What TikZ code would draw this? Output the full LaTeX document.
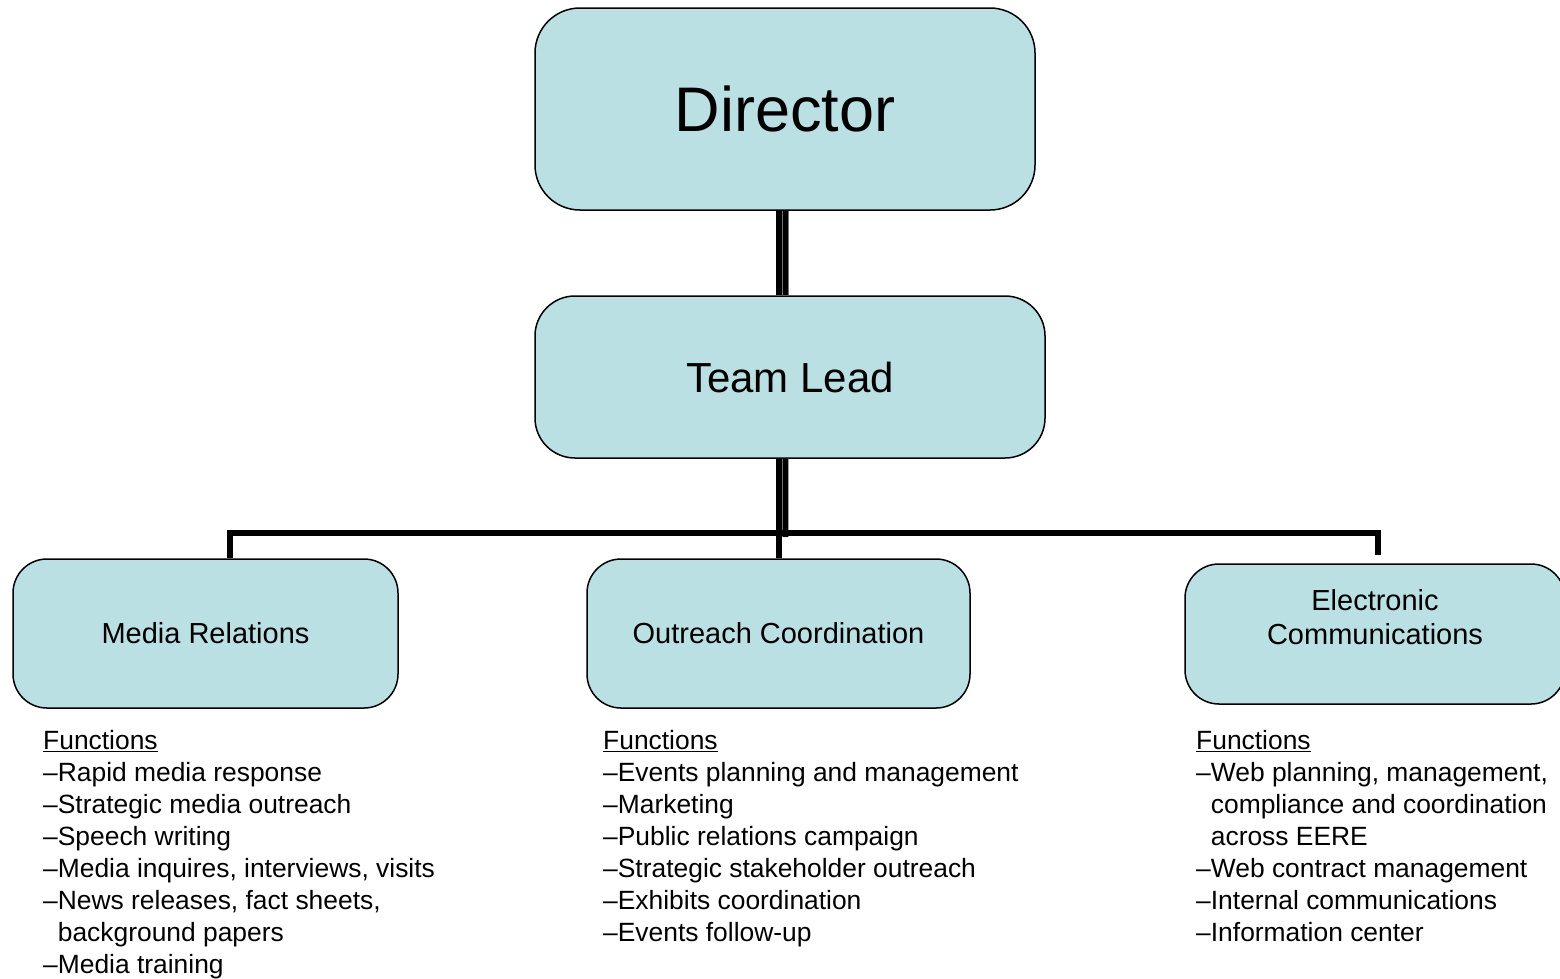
\documentclass[tikz,border=0pt]{standalone}
\usepackage{fontspec}
\setmainfont{Liberation Sans}
\usetikzlibrary{calc}
\definecolor{boxfill}{RGB}{187,224,227}
\begin{document}
\begin{tikzpicture}[x=1pt,y=-1pt]
\tikzset{
  box/.style={draw=black, line width=1.5pt, fill=boxfill, rounded corners=#1, inner sep=0pt, align=center},
  list/.style={anchor=north west, inner sep=0pt, align=left, font=\fontsize{26.4}{32}\selectfont},
  conn/.style={line width=6pt, black},
  bar/.style={line width=#1, black},
  gap/.style={line width=12.5pt, black!55},
}
\useasboundingbox (0,0) rectangle (1560,978);
\fill[white] (0,0) rectangle (1560,978);

% boxes
\node[box=45pt, minimum width=500pt, minimum height=202pt, font=\fontsize{63}{70}\selectfont] (dir) at (785,109) {Director};
\node[box=40pt, minimum width=510pt, minimum height=162pt, font=\fontsize{42}{48}\selectfont] (tl) at (790,377) {Team Lead};
\node[box=34pt, minimum width=385pt, minimum height=149pt, font=\fontsize{29}{34}\selectfont] (mr) at (205.5,633.5) {Media Relations};
\node[box=34pt, minimum width=383pt, minimum height=149pt, font=\fontsize{29}{34}\selectfont] (oc) at (778.5,633.5) {Outreach Coordination};
\node[box=34pt, minimum width=380pt, minimum height=140pt, font=\fontsize{29}{34}\selectfont] (ec) at (1375,634) {Electronic\\Communications\\\mbox{}};

% Director -> Team Lead (double line)
\draw[gap] ($(oc.north |- dir.south)+(3.75,0)$) -- ($(oc.north |- tl.north)+(3.75,0)$);
\draw[bar=5.7pt] ($(oc.north |- dir.south)+(0.35,0)$) -- ($(oc.north |- tl.north)+(0.35,0)$);
\draw[bar=4.4pt] ($(oc.north |- dir.south)+(7,0)$) -- ($(oc.north |- tl.north)+(7,0)$);

% Team Lead -> branches
\coordinate (hbar) at (779,532.5);
\coordinate (tlend) at (779,537);
\draw[gap] ($(oc.north |- tl.south)+(3.75,0)$) -- ($(tlend)+(3.4,0)$);
\draw[bar=4.4pt] ($(oc.north |- tl.south)+(7,0)$) -- ($(tlend)+(6.5,0)$);
\draw[conn] ($(mr.north)+(24,0)$) |- (hbar) -| ($(ec.north)+(3.3,-8)$);
\draw[bar=5.7pt] ($(oc.north |- tl.south)+(0.35,0)$) -- ($(oc.north)+(0.35,0)$);

% function lists
\node[list] (mrf) at (43,730) {\underline{Functions}\\
–Rapid media response\\
–Strategic media outreach\\
–Speech writing\\
–Media inquires, interviews, visits\\
–News releases, fact sheets,\\
\phantom{–}background papers\\
–Media training};

\node[list] (ocf) at (603,730) {\underline{Functions}\\
–Events planning and management\\
–Marketing\\
–Public relations campaign\\
–Strategic stakeholder outreach\\
–Exhibits coordination\\
–Events follow-up};

\node[list] (ecf) at (1196,730) {\underline{Functions}\\
–Web planning, management,\\
\phantom{–}compliance and coordination\\
\phantom{–}across EERE\\
–Web contract management\\
–Internal communications\\
–Information center};
\end{tikzpicture}
\end{document}
